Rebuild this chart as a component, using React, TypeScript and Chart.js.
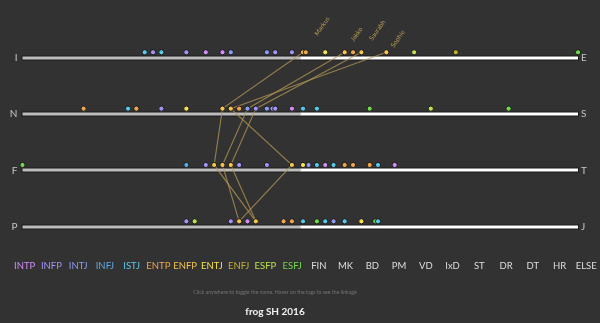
import React, { useEffect, useRef } from 'react';
import { Chart, registerables } from 'chart.js';

Chart.register(...registerables);

// ---- data ----
const ROW_LEFT = ['I', 'N', 'F', 'P'];
const ROW_RIGHT = ['E', 'S', 'T', 'J'];
const ROW_Y = [3, 2, 1, 0];

const TYPES = ['INTP', 'INFP', 'INTJ', 'INFJ', 'ISTJ', 'ENTP', 'ENFP', 'ENTJ', 'ENFJ', 'ESFP', 'ESFJ'];
const TYPE_COLORS = ['#cf8ef2', '#a493f4', '#8c9bf0', '#5ea6e2', '#5cc6e6', '#eea54c', '#f3c44e', '#f5e24e', '#c4ad34', '#bde052', '#72d84c'];
const DEPTS = ['FIN', 'MK', 'BD', 'PM', 'VD', 'IxD', 'ST', 'DR', 'DT', 'HR', 'ELSE'];

// I <-> E
const ieX = [22, 23.5, 25, 29.5, 33, 36, 37.5, 44, 45.5, 48.5, 50.5, 51, 54.5, 58, 59.5, 61, 65.5, 70.5, 78, 100];
const ieType = ['ISTJ', 'INFP', 'ISTJ', 'INFP', 'INTP', 'INTP', 'INTJ', 'INTJ', 'INFP', 'INFP', 'ENFP', 'ENTP', 'ENTJ', 'ENFP', 'ENTP', 'ENFP', 'ENFP', 'ESFP', 'ENFJ', 'ESFJ'];
// N <-> S
const nsX = [11, 19, 20.5, 25, 29.5, 36, 37.5, 39, 40.5, 42, 44, 45, 45.5, 48.5, 50.5, 53, 62.5, 73.5, 87.5];
const nsType = ['ENTP', 'ISTJ', 'ENTP', 'INFP', 'ENTJ', 'ENFP', 'ENFP', 'ENTP', 'INTJ', 'INFP', 'INTJ', 'INFP', 'INFP', 'INTP', 'ISTJ', 'ISTJ', 'ESFJ', 'ESFP', 'ESFJ'];
// F <-> T
const ftX = [0, 29.5, 33, 34.5, 36, 37.5, 39, 44, 48.5, 50.5, 51.5, 53, 54.5, 56, 58, 59.5, 62.5, 64, 67];
const ftType = ['ESFJ', 'INFJ', 'INFP', 'ENFP', 'ENFP', 'ENFP', 'INFP', 'INFP', 'ENFP', 'ENTJ', 'INTJ', 'ISTJ', 'INTP', 'ISTJ', 'ENTP', 'ENTP', 'ENTP', 'ISTJ', 'INTP'];
// P <-> J
const pjX = [29.5, 31, 37.5, 39, 40.5, 42, 47, 48.5, 50.5, 53, 54.5, 56, 58, 61, 63.5, 64];
const pjType = ['INFP', 'ESFP', 'INFP', 'ENFP', 'INTP', 'ENFP', 'ENTP', 'ENTP', 'ISTJ', 'ESFJ', 'ISTJ', 'INTJ', 'ISTJ', 'ENTJ', 'ESFJ', 'ISTJ'];

// named people: position on I/E, N/S, F/T, P/J
const PEOPLE = ['Markus', 'Jakko', 'Saurabh', 'Sophie'];
const markusPath = [50.5, 36, 34.5, 42];
const jakkoPath = [58, 40.5, 36, 39];
const saurabhPath = [61, 42, 37.5, 42];
const sophiePath = [65.5, 37.5, 48.5, 39];

const NOTE = 'Click anywhere to toggle the name. Hover on the tags to see the linkage';
const TITLE = 'frog SH 2016';

// ---- layout / style (not data) ----
const NAME_NUDGE = [[19, -26], [12, -18], [16, -22], [11.5, -13.5]];
const BG = '#323232';
const FONT = 'Lato, "Open Sans", sans-serif';

export default function App() {
  const ref = useRef<HTMLCanvasElement | null>(null);

  useEffect(() => {
    const canvas = ref.current;
    if (!canvas) return;

    const rows = [
      { xs: ieX, ts: ieType },
      { xs: nsX, ts: nsType },
      { xs: ftX, ts: ftType },
      { xs: pjX, ts: pjType },
    ];

    const dotSets = TYPES.map((t, ti) => {
      const pts: { x: number; y: number }[] = [];
      rows.forEach((r, ri) => {
        r.xs.forEach((x, i) => {
          if (r.ts[i] === t) pts.push({ x, y: ROW_Y[ri] });
        });
      });
      return {
        label: t,
        data: pts,
        backgroundColor: TYPE_COLORS[ti],
        borderColor: '#1c1c1c',
        borderWidth: 1,
        pointRadius: 2.6,
        showLine: false,
        clip: false as any,
        order: 0,
      };
    });

    const paths = [markusPath, jakkoPath, saurabhPath, sophiePath];
    const lineSets = paths.map((p, i) => ({
      label: PEOPLE[i],
      data: p.map((x, k) => ({ x, y: ROW_Y[k] })),
      showLine: true,
      borderColor: 'rgba(176,148,84,0.75)',
      borderWidth: 1.2,
      pointRadius: 0,
      backgroundColor: 'transparent',
      clip: false as any,
      order: 2,
    }));

    const barsPlugin = {
      id: 'bars',
      beforeDatasetsDraw(chart: any) {
        const { ctx, scales } = chart;
        const xs = scales.x;
        const ys = scales.y;
        const l = xs.getPixelForValue(0);
        const m = xs.getPixelForValue(50);
        const r = xs.getPixelForValue(100);
        ctx.save();
        ROW_Y.forEach((v) => {
          const y = Math.round(ys.getPixelForValue(v) + 5.4);
          ctx.fillStyle = '#1a1a1a';
          ctx.fillRect(l - 1, y - 2.5, r - l + 2, 5);
          ctx.fillStyle = '#bdbdbd';
          ctx.fillRect(l, y - 1.5, m - l, 3);
          ctx.fillStyle = '#ffffff';
          ctx.fillRect(m, y - 1.5, r - m, 3);
        });
        ctx.restore();
      },
    };

    const textPlugin = {
      id: 'texts',
      afterDatasetsDraw(chart: any) {
        const { ctx, scales } = chart;
        const xs = scales.x;
        const ys = scales.y;
        ctx.save();
        // names on the I/E row
        ctx.fillStyle = '#b39a55';
        ctx.font = `6.5px ${FONT}`;
        ctx.textAlign = 'center';
        ctx.textBaseline = 'middle';
        paths.forEach((p, i) => {
          const px = xs.getPixelForValue(p[0]) + NAME_NUDGE[i][0];
          const py = ys.getPixelForValue(ROW_Y[0]) + NAME_NUDGE[i][1];
          ctx.save();
          ctx.translate(px, py);
          ctx.rotate(-0.96);
          ctx.fillText(PEOPLE[i], 0, 0);
          ctx.restore();
        });
        ctx.restore();
      },
      afterDraw(chart: any) {
        const { ctx } = chart;
        ctx.save();
        const tags = [...TYPES, ...DEPTS];
        ctx.font = `9.5px ${FONT}`;
        ctx.textAlign = 'center';
        ctx.textBaseline = 'middle';
        tags.forEach((t, i) => {
          ctx.fillStyle = i < TYPES.length ? TYPE_COLORS[i] : '#dedede';
          ctx.fillText(t, 24.7 + 26.74 * i, 265.5);
        });
        ctx.font = `5.2px ${FONT}`;
        ctx.fillStyle = '#737373';
        ctx.fillText(NOTE, 275, 292);
        ctx.font = `bold 10px ${FONT}`;
        ctx.fillStyle = '#f2f2f2';
        ctx.fillText(TITLE, 275, 312);
        ctx.restore();
      },
    };

    const tickSet = (scale: any) => {
      scale.ticks = ROW_Y.map((v) => ({ value: v }));
    };

    const chart = new Chart(canvas, {
      type: 'scatter',
      data: { datasets: [...dotSets, ...lineSets] as any },
      options: {
        animation: false,
        responsive: false,
        devicePixelRatio: 1,
        events: [],
        layout: { padding: { top: 24.1, bottom: 73.5, left: 0, right: 0 } },
        plugins: { legend: { display: false }, tooltip: { enabled: false } },
        scales: {
          x: { type: 'linear', min: 0, max: 100, display: false },
          y: {
            type: 'linear',
            position: 'left',
            min: -0.5,
            max: 3.5,
            grid: { display: false, drawTicks: false },
            border: { display: false },
            afterBuildTicks: tickSet,
            afterFit: (s: any) => { s.width = 22.5; },
            ticks: {
              padding: 5,
              labelOffset: 5.4,
              color: '#c4c4c4',
              font: { family: FONT, size: 10 },
              callback: (v: any) => ROW_LEFT[3 - Number(v)],
            },
          },
          y2: {
            type: 'linear',
            position: 'right',
            min: -0.5,
            max: 3.5,
            grid: { display: false, drawTicks: false },
            border: { display: false },
            afterBuildTicks: tickSet,
            afterFit: (s: any) => { s.width = 22; },
            ticks: {
              padding: 3,
              labelOffset: 5.4,
              color: '#c4c4c4',
              font: { family: FONT, size: 10 },
              callback: (v: any) => ROW_RIGHT[3 - Number(v)],
            },
          },
        },
      } as any,
      plugins: [barsPlugin, textPlugin],
    });

    return () => chart.destroy();
  }, []);

  return (
    <div style={{ position: 'fixed', left: 0, top: 0, width: 600, height: 323, background: BG, overflow: 'hidden' }}>
      <canvas ref={ref} width={600} height={323} style={{ display: 'block' }} />
    </div>
  );
}
